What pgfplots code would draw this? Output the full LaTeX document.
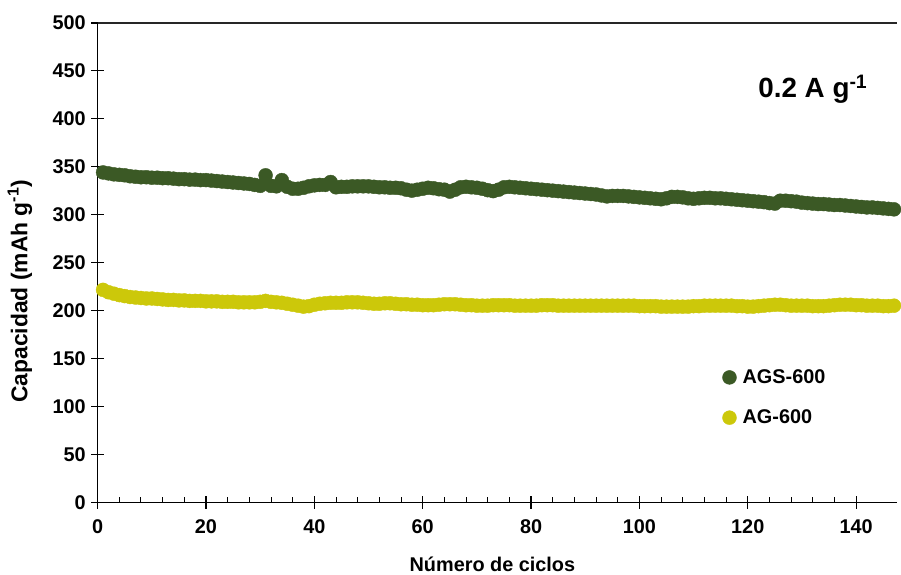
\documentclass[border=0pt]{standalone}
\usepackage{fontspec}
\setmainfont{Liberation Sans}
\usepackage{pgfplots}
\pgfplotsset{compat=1.18}

\definecolor{agsgreen}{RGB}{59,89,37}
\definecolor{agyellow}{RGB}{204,200,10}

\begin{document}
\begin{tikzpicture}
\begin{axis}[
  scale only axis, width=802bp, height=481bp,
  xmin=0, xmax=147.5, ymin=0, ymax=500,
  xtick={0,20,...,140}, ytick={0,50,...,500},
  minor x tick num=4,
  axis x line=bottom, axis y line=left,
  axis line style={-, line width=1.2bp},
  major tick style={line width=1.2bp, black},
  minor tick style={line width=1bp, black},
  tick align=center,
  major tick length=13bp, minor tick length=5bp,
  minor x tick style={yshift=2.5bp},
  tick label style={font=\bfseries\fontsize{20}{23}\selectfont},
  /pgf/number format/assume math mode=true,
  xticklabel style={yshift=-8bp},
  yticklabel style={xshift=-2bp},
  every axis x label/.style={at={(rel axis cs:0.494,0)}, yshift=-62bp, anchor=center},
  every axis y label/.style={at={(rel axis cs:0,0.44)}, xshift=-78bp, rotate=90, anchor=center},
  xlabel style={font=\bfseries\fontsize{20}{23}\selectfont},
  ylabel style={font=\bfseries\fontsize{23}{26}\selectfont},
  xlabel={Número de ciclos},
  ylabel={Capacidad (mAh g\textsuperscript{-1})},
  legend style={draw=none, fill=none, at={(rel axis cs:0.778,0.285)}, anchor=north west,
    font=\bfseries\fontsize{20}{23}\selectfont, row sep=21bp},
  legend cell align=left,
  legend image code/.code={\draw[mark repeat=2,mark phase=2,#1] plot coordinates {(0bp,0bp)(6bp,0bp)(18bp,0bp)};
    \path (0bp,0bp) (17bp,0bp);},
  clip=false,
]
\addplot[only marks, mark=*, mark size=7bp, color=agsgreen] coordinates {
(1,344)(2,343)(3,342)(4,341.5)(5,341)(6,340)(7,339.5)(8,339)(9,339)(10,338.5)
(11,338.5)(12,338)(13,338)(14,337.5)(15,337)(16,337)(17,336.5)(18,336.5)(19,336)(20,336)
(21,335.5)(22,335)(23,334.5)(24,334)(25,333.5)(26,333)(27,332.5)(28,332)(29,331)(30,330)
(31,341)(32,330)(33,329.5)(34,336)(35,329)(36,327)(37,327)(38,328)(39,329.5)(40,330.5)
(41,331)(42,331)(43,334)(44,328.5)(45,329)(46,329)(47,329.5)(48,329.5)(49,329.5)(50,329.5)
(51,329)(52,328.5)(53,328.5)(54,328)(55,328)(56,327.5)(57,326)(58,325)(59,326)(60,327)
(61,328)(62,327.5)(63,326.5)(64,326)(65,324)(66,326)(67,328.5)(68,329)(69,328.5)(70,328)
(71,327)(72,325.5)(73,324.5)(74,326)(75,328.5)(76,329)(77,328.5)(78,328)(79,327.5)(80,327)
(81,326.5)(82,326)(83,325.5)(84,325)(85,324.5)(86,324)(87,323.5)(88,323)(89,322.5)(90,322)
(91,321.5)(92,321)(93,320)(94,319)(95,319.5)(96,319.5)(97,319.5)(98,319)(99,318.5)(100,318)
(101,317.5)(102,317)(103,316.5)(104,316)(105,317)(106,318.5)(107,318.5)(108,318)(109,317)(110,316.5)
(111,317)(112,317.5)(113,317.5)(114,317)(115,317)(116,316.5)(117,316)(118,315.5)(119,315)(120,314.5)
(121,314)(122,313.5)(123,313)(124,312)(125,311.5)(126,314.5)(127,314.5)(128,314)(129,313.5)(130,312.5)
(131,312)(132,311.5)(133,311)(134,311)(135,310.5)(136,310)(137,310)(138,309.5)(139,309)(140,308.5)
(141,308)(142,307.5)(143,307.5)(144,307)(145,306.5)(146,306)(147,305.5)
};
\addlegendentry{AGS-600}
\addplot[only marks, mark=*, mark size=7bp, color=agyellow] coordinates {
(1,221.5)(2,219)(3,217.5)(4,216)(5,215)(6,214)(7,213.5)(8,213)(9,212.5)(10,212.5)
(11,212)(12,211.5)(13,211)(14,211)(15,210.5)(16,210.5)(17,210)(18,210)(19,210)(20,209.5)
(21,209.5)(22,209.5)(23,209)(24,209)(25,209)(26,208.5)(27,208.5)(28,208.5)(29,208.5)(30,209)
(31,210)(32,209)(33,208.5)(34,208)(35,207)(36,206)(37,205)(38,204)(39,204.5)(40,206)
(41,207)(42,207.5)(43,208)(44,208)(45,208)(46,208.5)(47,208.5)(48,208.5)(49,208)(50,207.5)
(51,207)(52,207)(53,207.5)(54,207.5)(55,207)(56,206.5)(57,206.5)(58,206)(59,206)(60,205.5)
(61,205.5)(62,205.5)(63,206)(64,206.5)(65,206.5)(66,206.5)(67,206)(68,205.5)(69,205.5)(70,205)
(71,205)(72,205)(73,205.5)(74,205.5)(75,205.5)(76,205.5)(77,205)(78,205)(79,205)(80,205)
(81,205)(82,205.5)(83,205.5)(84,205.5)(85,205)(86,205)(87,205)(88,205)(89,205)(90,205)
(91,205)(92,205)(93,205)(94,205)(95,205)(96,205)(97,205)(98,205)(99,205)(100,204.5)
(101,204.5)(102,204.5)(103,204.5)(104,204)(105,204)(106,204)(107,204)(108,204)(109,204)(110,204.5)
(111,204.5)(112,205)(113,205)(114,205)(115,205)(116,205)(117,205)(118,204.5)(119,204.5)(120,204)
(121,204)(122,204.5)(123,205)(124,205.5)(125,206)(126,206)(127,205.5)(128,205)(129,205)(130,205)
(131,205)(132,204.5)(133,204.5)(134,204.5)(135,205)(136,205.5)(137,206)(138,206)(139,206)(140,205.5)
(141,205.5)(142,205)(143,205)(144,205)(145,204.5)(146,204.5)(147,205)
};
\addlegendentry{AG-600}
\draw[black!85, line width=1.2bp] (rel axis cs:0,1) -- (rel axis cs:1,1);
\node[font=\bfseries\fontsize{28}{32}\selectfont] at (rel axis cs:0.895,0.861) {0.2 A g\textsuperscript{-1}};
% fix the page to the reference frame
\path (rel axis cs:0,0) ++(-98bp,-72bp) coordinate (bl);
\path (rel axis cs:1,1) ++(1bp,23bp) coordinate (tr);
\end{axis}
\useasboundingbox (bl) rectangle (tr);
\end{tikzpicture}
\end{document}
